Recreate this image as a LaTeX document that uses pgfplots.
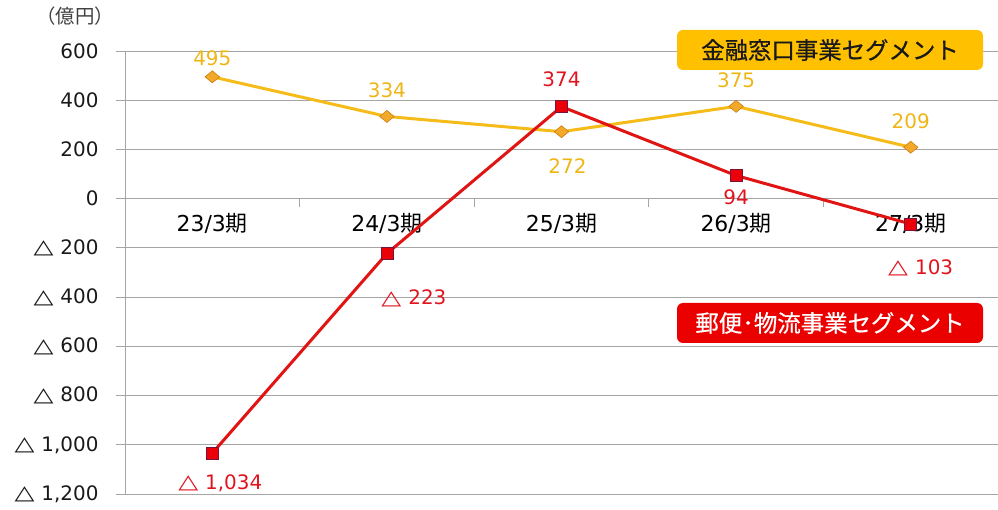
\documentclass[border=0pt]{standalone}
\usepackage{fontspec}
\usepackage{graphicx}
\usepackage{pgfplots}
\pgfplotsset{compat=1.18}
\setmainfont{DejaVu Sans}
\newfontfamily\cjk{Noto Sans CJK JP}
\newfontfamily\cjkb[FakeBold=0.6]{Noto Sans CJK JP}
\definecolor{ygold}{RGB}{245,188,25}
\definecolor{ytext}{RGB}{238,182,20}
\definecolor{ymark}{RGB}{242,168,40}
\definecolor{ymarkedge}{RGB}{205,125,20}
\definecolor{rline}{RGB}{225,20,20}
\definecolor{rmark}{RGB}{235,0,10}
\definecolor{rmarkedge}{RGB}{120,20,60}
\definecolor{rtext}{RGB}{225,20,30}
\definecolor{boxgold}{RGB}{255,192,0}
\definecolor{boxred}{RGB}{235,0,0}
\definecolor{gridgray}{RGB}{165,165,165}
\newcommand{\tri}{\raisebox{0.5bp}{\scalebox{1.3}[1.0]{\bfseries △}}\hspace{7bp}}
\begin{document}
\begin{tikzpicture}
\useasboundingbox (0,0) rectangle (998bp,510bp);
\begin{axis}[
  at={(125bp,16bp)}, anchor=south west,
  scale only axis, width=873bp, height=443bp,
  xmin=-0.5, xmax=4.5, ymin=-1200, ymax=600,
  clip=false,
  axis y line*=left, axis x line*=middle,
  x axis line style={draw=none},
  y axis line style={draw=gridgray, line width=0.8bp, -},
  ytick={-1200,-1000,-800,-600,-400,-200,0,200,400,600},
  yticklabels={{\tri 1,200},{\tri 1,000},{\tri 800},{\tri 600},{\tri 400},{\tri 200},0,200,400,600},
  ymajorgrids, grid style={draw=gridgray, line width=0.8bp},
  ytick style={draw=gridgray, line width=0.8bp},
  ytick align=outside, major tick length=9bp,
  yticklabel style={font=\fontsize{20}{24}\selectfont, text=black!90, xshift=-14bp},
  xtick={0,1,2,3,4},
  xticklabels={23/3{\cjk 期},24/3{\cjk 期},25/3{\cjk 期},26/3{\cjk 期},27/3{\cjk 期}},
  xtick style={draw=none},
  xticklabel style={font=\fontsize{22}{26}\selectfont, text=black, yshift=-11bp},
  extra x ticks={0.5,1.5,2.5,3.5},
  extra x tick labels={},
  extra x tick style={xtick style={draw=gridgray, line width=0.8bp}, xtick align=outside, major tick length=8bp},
]
\addplot[color=ygold, line width=3bp, mark=diamond*, mark size=6bp,
  mark options={fill=ymark, draw=ymarkedge, line width=0.6bp, xscale=1.6},
  nodes near coords, point meta=explicit symbolic,
  visualization depends on={\thisrow{dy} \as \dy},
  visualization depends on={\thisrow{dx} \as \dx},
  every node near coord/.append style={anchor=center, yshift=\dy bp, xshift=\dx bp, text=ytext, font=\fontsize{20}{24}\selectfont}]
  table[x=x, y=y, meta=lab] {
x y lab dx dy
0 495 495 0 19
1 334 334 0 26
2 272 272 6 -34
3 375 375 0 26
4 209 209 0 26
};
\addplot[color=rline, line width=3bp, mark=square*, mark size=6bp,
  mark options={fill=rmark, draw=rmarkedge, line width=0.6bp},
  nodes near coords, point meta=explicit symbolic,
  visualization depends on={\thisrow{dy} \as \dy},
  visualization depends on={\thisrow{dx} \as \dx},
  every node near coord/.append style={anchor=center, yshift=\dy bp, xshift=\dx bp, text=rtext, font=\fontsize{20}{24}\selectfont}]
  table[x=x, y=y, meta=lab] {
x y lab dx dy
0 -1034 {\tri 1,034} 8 -30
1 -223 {\tri 223} 27 -45
2 374 374 0 27
3 94 94 0 -22
4 -103 {\tri 103} 10 -44
};
\end{axis}
\node[fill=boxgold, rounded corners=6bp, minimum width=306bp, minimum height=40bp, inner sep=0pt,
  font=\cjkb\fontsize{23.5}{27}\selectfont, text=black!90] at (830bp,460bp) {金融窓口事業セグメント};
\node[fill=boxred, rounded corners=6bp, minimum width=306bp, minimum height=40bp, inner sep=0pt,
  font=\cjkb\fontsize{23.5}{27}\selectfont, text=white] at (830bp,187bp) {郵便･物流事業セグメント};
\node[font=\cjk\fontsize{19.5}{22}\selectfont, text=black!75] at (75bp,494bp) {（億円）};
\end{tikzpicture}
\end{document}
